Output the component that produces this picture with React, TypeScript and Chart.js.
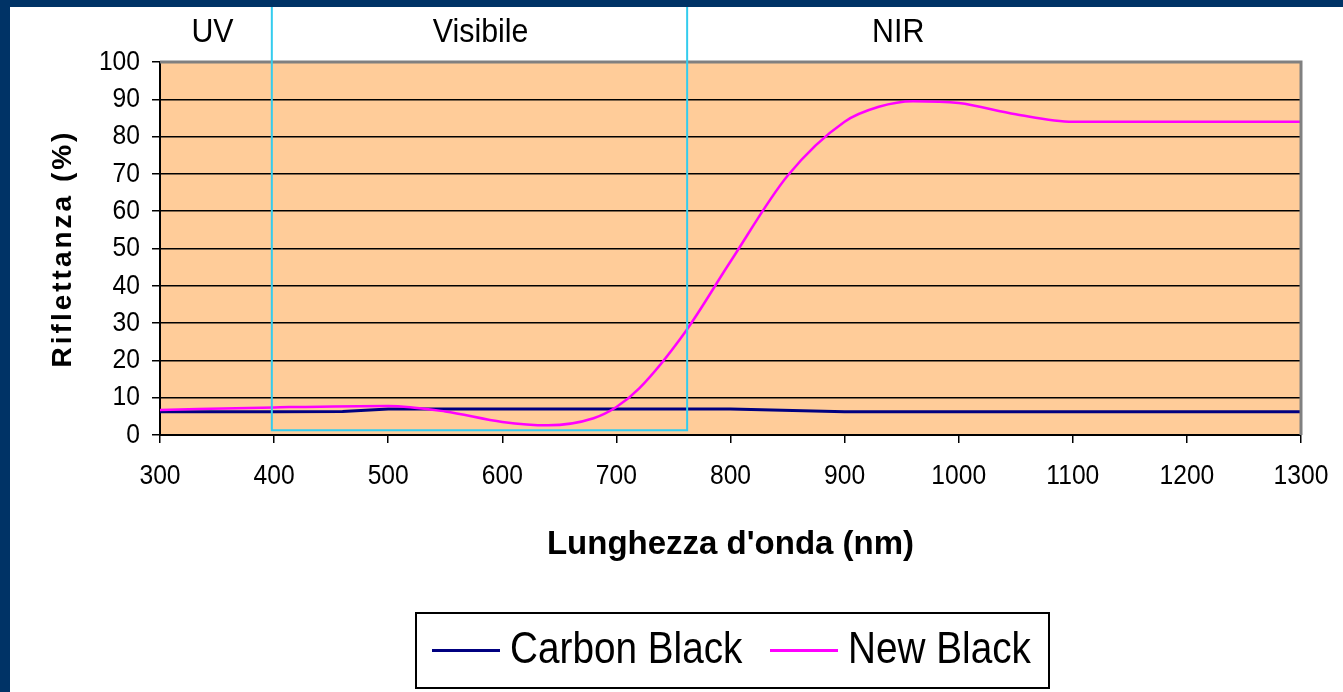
import React, { useEffect, useRef } from "react";
import { Chart, registerables } from "chart.js";

Chart.register(...registerables);

// ---- data ----
const carbonWavelengths = [300, 400, 460, 500, 600, 700, 800, 900, 1000, 1100, 1200, 1300];
const carbonValues = [6.2, 6.2, 6.3, 7.0, 7.0, 7.0, 7.0, 6.2, 6.2, 6.2, 6.2, 6.2];

const newWavelengths = [300, 400, 500, 550, 600, 640, 680, 700, 720, 760, 800, 850, 900, 930, 960, 1000, 1050, 1100, 1200, 1300];
const newValues = [6.7, 7.4, 7.8, 6.3, 3.5, 2.6, 4.5, 7.5, 12.5, 27.5, 46.5, 69.5, 84, 88, 89.5, 89, 86, 84, 84, 84];

const seriesNames = ["Carbon Black", "New Black"];
const seriesColors = ["#000080", "#FF00FF"];

const regionLabels = ["UV", "Visibile", "NIR"];
const regionLabelPos = [346, 581, 947];
const visibleBand = [398, 762];
const visibleBandBottom = 1.3;

const xTitle = "Lunghezza d'onda (nm)";
const yTitle = "Riflettanza (%)";

const W = 1343;
const H = 692;

function drawText(
  ctx: CanvasRenderingContext2D,
  text: string,
  x: number,
  y: number,
  font: string,
  sx: number,
  align: CanvasTextAlign,
  color: string
) {
  ctx.save();
  ctx.font = font;
  ctx.fillStyle = color;
  ctx.textBaseline = "middle";
  ctx.textAlign = align;
  ctx.translate(x, y);
  ctx.scale(sx, 1);
  ctx.fillText(text, 0, 0);
  ctx.restore();
}

const FONT = "'Liberation Sans', Arial, sans-serif";

const decorPlugin = {
  id: "decor",
  beforeDraw(chart: any) {
    const { ctx, chartArea } = chart;
    const { left, top, right, bottom } = chartArea;
    ctx.save();
    ctx.fillStyle = "#ffffff";
    ctx.fillRect(0, 0, W, H);
    ctx.fillStyle = "#FFCC99";
    ctx.fillRect(left, top, right - left, bottom - top);
    ctx.restore();
  },
  afterDraw(chart: any) {
    const { ctx, chartArea } = chart;
    const { left, top, right, bottom } = chartArea;
    const xs = chart.scales.x;
    const ys = chart.scales.y;

    // gray plot border (top / right)
    ctx.save();
    ctx.strokeStyle = "#808080";
    ctx.lineWidth = 3;
    ctx.beginPath();
    ctx.moveTo(left, top);
    ctx.lineTo(right, top);
    ctx.lineTo(right, bottom);
    ctx.stroke();
    ctx.restore();

    // visible band rectangle
    const bx1 = xs.getPixelForValue(visibleBand[0]);
    const bx2 = xs.getPixelForValue(visibleBand[1]);
    const by = ys.getPixelForValue(visibleBandBottom);
    ctx.save();
    ctx.strokeStyle = "#33CCEE";
    ctx.lineWidth = 2;
    ctx.beginPath();
    ctx.moveTo(bx1, 0);
    ctx.lineTo(bx1, by);
    ctx.lineTo(bx2, by);
    ctx.lineTo(bx2, 0);
    ctx.stroke();
    ctx.restore();

    // region labels
    regionLabels.forEach((t, i) => {
      drawText(ctx, t, xs.getPixelForValue(regionLabelPos[i]), 33, `33px ${FONT}`, 0.92, "center", "#000");
    });

    // tick labels
    xs.ticks.forEach((tk: any) => {
      drawText(ctx, String(tk.value), xs.getPixelForValue(tk.value), bottom + 41, `28px ${FONT}`, 0.88, "center", "#000");
    });
    ys.ticks.forEach((tk: any) => {
      drawText(ctx, String(tk.value), left - 20, ys.getPixelForValue(tk.value), `28px ${FONT}`, 0.88, "right", "#000");
    });

    // axis titles
    drawText(ctx, xTitle, (left + right) / 2, bottom + 110, `bold 33px ${FONT}`, 1, "center", "#000");
    ctx.save();
    ctx.translate(63, (top + bottom) / 2);
    ctx.rotate(-Math.PI / 2);
    ctx.font = `bold 28px ${FONT}`;
    (ctx as any).letterSpacing = "3px";
    ctx.fillStyle = "#000";
    ctx.textAlign = "center";
    ctx.textBaseline = "middle";
    ctx.fillText(yTitle, 0, 0);
    ctx.restore();

    // legend
    const lx = 416, ly = 613, lw = 633, lh = 75;
    ctx.save();
    ctx.fillStyle = "#fff";
    ctx.fillRect(lx, ly, lw, lh);
    ctx.strokeStyle = "#000";
    ctx.lineWidth = 2;
    ctx.strokeRect(lx, ly, lw, lh);
    const cy = ly + lh / 2;
    const itemX = [432, 770];
    seriesNames.forEach((name, i) => {
      ctx.strokeStyle = seriesColors[i];
      ctx.lineWidth = 3;
      ctx.beginPath();
      ctx.moveTo(itemX[i], cy);
      ctx.lineTo(itemX[i] + 68, cy);
      ctx.stroke();
      drawText(ctx, name, itemX[i] + 78, cy, `44px ${FONT}`, 0.88, "left", "#000");
    });
    ctx.restore();

    // frame
    ctx.save();
    ctx.fillStyle = "#003366";
    ctx.fillRect(0, 0, W, 7);
    ctx.fillRect(0, 0, 10, H);
    ctx.restore();
  },
};

export default function App() {
  const ref = useRef<HTMLCanvasElement | null>(null);
  useEffect(() => {
    if (!ref.current) return;
    const chart = new Chart(ref.current, {
      type: "line",
      data: {
        datasets: [
          {
            label: seriesNames[0],
            data: carbonWavelengths.map((x, i) => ({ x, y: carbonValues[i] })),
            borderColor: seriesColors[0],
            borderWidth: 3,
            pointRadius: 0,
            tension: 0,
            order: 1,
          },
          {
            label: seriesNames[1],
            data: newWavelengths.map((x, i) => ({ x, y: newValues[i] })),
            borderColor: seriesColors[1],
            borderWidth: 2.5,
            pointRadius: 0,
            cubicInterpolationMode: "monotone",
            order: 0,
          },
        ],
      },
      options: {
        animation: false,
        responsive: true,
        maintainAspectRatio: false,
        layout: { padding: { left: 0, right: 42, top: 62, bottom: 0 } },
        plugins: { legend: { display: false }, tooltip: { enabled: false } },
        scales: {
          x: {
            type: "linear",
            min: 300,
            max: 1300,
            ticks: { stepSize: 100, display: false },
            grid: { drawOnChartArea: false, drawTicks: true, tickLength: 8, color: "#000", lineWidth: 1.5 },
            border: { color: "#000", width: 2 },
            afterFit(s: any) {
              s.height = 257;
            },
          },
          y: {
            min: 0,
            max: 100,
            ticks: { stepSize: 10, display: false },
            grid: { color: "#000", lineWidth: 1.5, tickLength: 8 },
            border: { color: "#000", width: 2 },
            afterFit(s: any) {
              s.width = 160;
            },
          },
        },
      } as any,
      plugins: [decorPlugin],
    });
    return () => chart.destroy();
  }, []);
  return (
    <div style={{ position: "absolute", left: 0, top: 0, width: W, height: H, background: "#fff" }}>
      <canvas ref={ref} />
    </div>
  );
}
